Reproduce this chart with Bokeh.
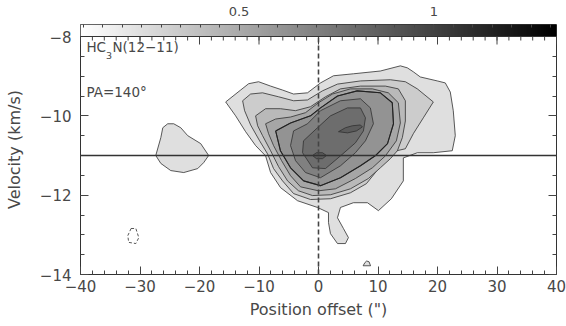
import numpy as np
from bokeh.plotting import figure
from bokeh.models import (Range1d, LinearAxis, FixedTicker, Span, Label,
                          LinearColorMapper, ColumnDataSource, CustomJSTickFormatter)
from bokeh.embed import file_html
from bokeh.resources import INLINE
from bokeh.transform import linear_cmap

# ---------------- axes / ticks ----------------
x_ticks = [-40, -30, -20, -10, 0, 10, 20, 30, 40]
x_minor = [-40, -38, -36, -34, -32, -30, -28, -26, -24, -22, -20, -18, -16, -14, -12,
           -10, -8, -6, -4, -2, 0, 2, 4, 6, 8, 10, 12, 14, 16, 18, 20, 22, 24, 26, 28,
           30, 32, 34, 36, 38, 40]
y_ticks = [-14, -12, -10, -8]
y_minor = [-14, -13.5, -13, -12.5, -12, -11.5, -11, -10.5, -10, -9.5, -9, -8.5, -8]
x_min, x_max = -40, 40
y_min, y_top = -14, -8
cbar_ticks = [0.5, 1.0]
cbar_minor = [0.1, 0.15, 0.2, 0.25, 0.3, 0.35, 0.4, 0.45, 0.5, 0.55, 0.6, 0.65, 0.7,
              0.75, 0.8, 0.85, 0.9, 0.95, 1.0, 1.05, 1.1, 1.15, 1.2, 1.25, 1.3]
cbar_low = 0.093
cbar_high = 1.315

systemic_velocity = -11.0
zero_offset = 0.0

# contour levels (outer -> inner)
levels = [0.25, 0.34, 0.43, 0.52, 0.61, 0.70, 0.79, 0.88]

# ---------------- contour outlines (position offset ", velocity km/s) ----------------
c1_main_x = [-15.60, -13.09, -11.74, -10.07, -8.05, -6.04, -4.19, -1.85, 0.34, 2.52, 5.87,
             10.40, 13.76, 14.93, 15.94, 17.11, 19.97, 21.31, 22.15, 22.65, 22.99, 22.48,
             19.30, 16.61, 14.26, 14.26, 12.25, 10.07, 8.22, 5.87, 3.69, 3.19, 4.19, 5.03,
             4.53, 3.19, 2.01, 1.68, 1.68, -0.17, -3.52, -6.38, -8.05, -8.89, -10.57,
             -12.25, -13.93]
c1_main_y = [-9.65, -9.35, -9.19, -9.14, -9.25, -9.35, -9.45, -9.42, -9.17, -8.99, -8.94,
             -8.87, -8.74, -8.79, -8.89, -9.02, -9.12, -9.17, -9.40, -9.87, -10.50, -10.88,
             -10.93, -10.93, -11.06, -11.64, -12.09, -12.39, -12.19, -12.19, -12.31, -12.57,
             -12.84, -13.07, -13.22, -13.22, -12.97, -12.69, -12.44, -12.31, -12.14, -11.81,
             -11.43, -11.01, -10.75, -10.40, -10.00]
c1_west_x = [-27.35, -26.50, -26.17, -25.34, -24.33, -23.15, -21.98, -19.80, -18.46,
             -19.30, -20.30, -22.65, -24.83, -26.50]
c1_west_y = [-11.00, -10.55, -10.30, -10.20, -10.20, -10.30, -10.50, -10.70, -11.00,
             -11.18, -11.33, -11.43, -11.38, -11.20]
c1_south_x = [7.50, 7.80, 8.10, 8.50, 8.75]
c1_south_y = [-13.78, -13.70, -13.66, -13.68, -13.78]

c2_x = [-12.75, -11.41, -9.40, -6.71, -4.19, -1.85, 0.67, 3.19, 7.05, 12.08, 14.60, 16.61,
        19.30, 17.62, 15.94, 14.60, 11.74, 10.74, 9.56, 8.05, 5.37, 2.01, -1.34, -4.19,
        -6.04, -7.55, -8.56, -9.90, -11.41, -12.42]
c2_y = [-9.62, -9.45, -9.42, -9.52, -9.62, -9.60, -9.37, -9.20, -9.12, -9.09, -9.14, -9.32,
        -9.65, -10.05, -10.45, -10.83, -10.93, -11.13, -11.43, -11.71, -11.94, -12.09,
        -12.11, -11.96, -11.64, -11.33, -10.96, -10.63, -10.23, -9.87]

c3_x = [-10.57, -8.89, -6.38, -3.86, -1.34, 1.17, 3.69, 7.05, 11.24, 13.42, 14.60, 14.60,
        14.09, 13.26, 12.08, 10.40, 8.39, 5.37, 2.01, -1.01, -3.36, -5.20, -6.71, -8.05,
        -9.40, -10.23]
c3_y = [-10.00, -9.82, -9.82, -9.87, -9.77, -9.52, -9.32, -9.25, -9.25, -9.32, -9.62,
        -10.13, -10.55, -10.88, -11.08, -11.31, -11.58, -11.84, -11.99, -12.01, -11.89,
        -11.64, -11.28, -10.88, -10.50, -10.25]

c4_x = [-8.89, -7.21, -4.70, -2.18, 0.00, 2.35, 5.37, 9.06, 11.74, 13.42, 13.76, 13.09,
        11.24, 9.06, 6.21, 2.85, 0.00, -3.02, -4.70, -6.21, -7.55, -8.39]
c4_y = [-10.20, -10.08, -10.03, -9.92, -9.67, -9.45, -9.32, -9.32, -9.42, -9.67, -10.18,
        -10.63, -11.01, -11.31, -11.58, -11.84, -11.89, -11.79, -11.51, -11.13, -10.75,
        -10.45]

c5_x = [-7.20, -4.70, -1.35, 0.34, 3.20, 6.50, 10.40, 12.40, 12.60, 11.60, 9.60, 7.05,
        3.70, 0.34, -2.50, -4.70, -6.40]
c5_y = [-10.38, -10.18, -10.00, -9.80, -9.50, -9.37, -9.42, -9.67, -10.20, -10.70, -11.00,
        -11.26, -11.56, -11.76, -11.64, -11.31, -10.88]

c6_x = [-4.19, -1.85, 0.34, 3.69, 7.05, 8.72, 9.23, 7.89, 6.21, 3.69, 0.34, -2.18, -3.86,
        -4.70]
c6_y = [-10.38, -10.20, -9.87, -9.62, -9.57, -9.80, -10.20, -10.63, -10.93, -11.26, -11.56,
        -11.43, -11.13, -10.75]

c7_x = [-2.52, -0.17, 2.01, 4.87, 7.05, 7.89, 7.55, 6.21, 3.69, 1.17, -1.01, -2.68]
c7_y = [-10.63, -10.30, -10.00, -9.80, -9.80, -10.05, -10.38, -10.68, -11.01, -11.33,
        -11.31, -10.93]

c8_east_x = [3.36, 4.53, 5.70, 7.05, 7.38, 6.38, 4.87]
c8_east_y = [-10.40, -10.30, -10.25, -10.23, -10.28, -10.38, -10.43]
c8_peak_x = [-1.01, -0.34, 0.67, 1.34, 0.67, -0.34]
c8_peak_y = [-11.00, -10.93, -10.93, -11.00, -11.08, -11.08]

neg_x = [-31.50, -30.70, -30.20, -30.70, -31.90, -32.05]
neg_y = [-12.84, -12.84, -13.07, -13.22, -13.19, -13.02]

contours = [
    (levels[0], c1_main_x, c1_main_y), (levels[0], c1_west_x, c1_west_y),
    (levels[0], c1_south_x, c1_south_y),
    (levels[1], c2_x, c2_y), (levels[2], c3_x, c3_y), (levels[3], c4_x, c4_y),
    (levels[4], c5_x, c5_y), (levels[5], c6_x, c6_y), (levels[6], c7_x, c7_y),
    (levels[7], c8_east_x, c8_east_y), (levels[7], c8_peak_x, c8_peak_y),
]

# ---------------- styling ----------------
FONT = "DejaVu Sans"
TXT = "#484848"
TICK = "#444444"
palette = ["#%02x%02x%02x" % (g, g, g) for g in range(255, -1, -1)]
mapper = LinearColorMapper(palette=palette, low=cbar_low, high=cbar_high)

PLOT_H = 238            # pixels for the -14 .. -8 km/s window
BAR_H = 12              # pixels for the wedge on top
bar_span = (y_top - y_min) * BAR_H / PLOT_H   # wedge height in axis units

p = figure(frame_width=476, frame_height=PLOT_H + BAR_H,
           x_range=Range1d(x_min, x_max), y_range=Range1d(y_min, y_top + bar_span),
           output_backend="svg", toolbar_location=None,
           min_border_left=80, min_border_right=10, min_border_top=24, min_border_bottom=0)
p.extra_x_ranges = {"wedge": Range1d(cbar_low, cbar_high)}
p.xgrid.visible = False
p.ygrid.visible = False
p.outline_line_color = "#333"
p.outline_line_width = 1

# ---- grey-scale wedge
grad = np.array([np.linspace(cbar_low, cbar_high, 400)])
p.image(image=[grad], x=x_min, y=y_top, dw=x_max - x_min, dh=bar_span, color_mapper=mapper)
p.add_layout(Span(location=y_top, dimension="width", line_color="#333", line_width=1))

# ---- filled contours
src = ColumnDataSource(dict(xs=[c[1] for c in contours], ys=[c[2] for c in contours],
                            level=[c[0] for c in contours]))
p.patches("xs", "ys", source=src,
          fill_color=linear_cmap("level", palette, cbar_low, cbar_high),
          line_color="#303030", line_width=0.8)
p.line(c5_x + c5_x[:1], c5_y + c5_y[:1], line_color="#222222", line_width=1.1)
p.line(neg_x + neg_x[:1], neg_y + neg_y[:1], line_color="#444", line_width=0.9,
       line_dash="3 2")

# ---- reference lines
p.add_layout(Span(location=systemic_velocity, dimension="width", line_color="#333",
                  line_width=1.6))
p.segment(x0=zero_offset, y0=y_min, x1=zero_offset, y1=y_top, line_color="#444",
          line_width=1.6, line_dash="5 3")

# ---- ticks along the top edge of the data window (below the wedge)
p.ray(x=x_minor, y=y_top, length=4, length_units="screen", angle=-90, angle_units="deg",
      line_color=TICK, line_width=1)
p.ray(x=x_ticks, y=y_top, length=8, length_units="screen", angle=-90, angle_units="deg",
      line_color=TICK, line_width=1)

# ---- axes
minus_fmt = CustomJSTickFormatter(
    code="return tick < 0 ? '\u2212' + Math.abs(tick) : String(tick);")
blank = CustomJSTickFormatter(code="return '';")

for ax, tk, mn in ((p.xaxis[0], x_ticks, x_minor), (p.yaxis[0], y_ticks, y_minor)):
    ax.ticker = FixedTicker(ticks=tk, minor_ticks=mn)
    ax.formatter = minus_fmt
    ax.major_tick_in = 8
    ax.major_tick_out = 0
    ax.minor_tick_in = 4
    ax.minor_tick_out = 0
    ax.axis_line_color = None
    ax.major_tick_line_color = TICK
    ax.minor_tick_line_color = TICK
    ax.major_label_text_font = FONT
    ax.major_label_text_font_size = "15px"
    ax.major_label_text_color = TXT
    ax.axis_label_text_font = FONT
    ax.axis_label_text_font_size = "16px"
    ax.axis_label_text_font_style = "normal"
    ax.axis_label_text_color = TXT

p.xaxis.axis_label = 'Position offset (")'
p.yaxis.axis_label = "Velocity (km/s)"
p.xaxis.major_label_standoff = 5
p.xaxis.axis_label_standoff = 5
p.yaxis.major_label_standoff = 9
p.yaxis.axis_label_standoff = 13

right_ax = LinearAxis(ticker=FixedTicker(ticks=y_ticks, minor_ticks=y_minor), formatter=blank,
                      major_tick_in=8, major_tick_out=0, minor_tick_in=4, minor_tick_out=0,
                      axis_line_color=None, major_tick_line_color=TICK,
                      minor_tick_line_color=TICK, major_label_standoff=0,
                      major_label_text_font_size="1px")
p.add_layout(right_ax, "right")

wedge_ax = LinearAxis(x_range_name="wedge",
                      ticker=FixedTicker(ticks=cbar_ticks, minor_ticks=cbar_minor),
                      major_tick_in=6, major_tick_out=0, minor_tick_in=3, minor_tick_out=0,
                      axis_line_color=None, major_tick_line_color=TICK,
                      minor_tick_line_color=TICK, major_label_standoff=9,
                      major_label_text_font=FONT, major_label_text_font_size="13px",
                      major_label_text_color=TXT)
p.add_layout(wedge_ax, "above")

# ---- text annotations
p.add_layout(Label(x=-39, y=-8.47, text="HC", text_font=FONT, text_font_size="13.5px",
                   text_color=TXT))
p.add_layout(Label(x=-39, y=-8.47, x_offset=19.5, y_offset=-4, text="3", text_font=FONT,
                   text_font_size="9.5px", text_color=TXT))
p.add_layout(Label(x=-39, y=-8.47, x_offset=26, text="N(12\u221211)", text_font=FONT,
                   text_font_size="13.5px", text_color=TXT))
p.add_layout(Label(x=-39, y=-9.60, text="PA=140\u00b0", text_font=FONT,
                   text_font_size="13.5px", text_color=TXT))

open("out.html", "w").write(file_html(p, INLINE))
